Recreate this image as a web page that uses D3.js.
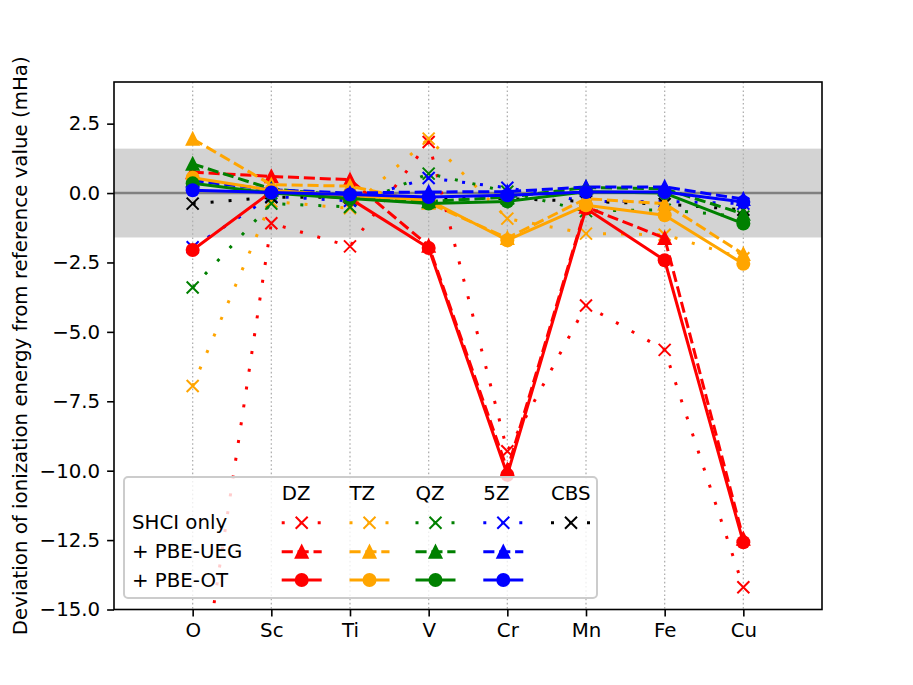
<!DOCTYPE html>
<html>
<head>
<meta charset="utf-8">
<script src="https://cdn.jsdelivr.net/npm/d3@7"></script>
<style>
  html, body { margin: 0; padding: 0; background: #fff; }
  svg { display: block; font-family: "DejaVu Sans", sans-serif; }
</style>
</head>
<body>
<svg id="chart" width="913" height="685"></svg>
<script>
// ---------------- data ----------------
const elements = ["O", "Sc", "Ti", "V", "Cr", "Mn", "Fe", "Cu"];
const yTicks = [2.5, 0.0, -2.5, -5.0, -7.5, -10.0, -12.5, -15.0];
const bases = ["DZ", "TZ", "QZ", "5Z", "CBS"];
const baseColors = ["red", "orange", "green", "blue", "black"];
const rowLabels = ["SHCI only", "+ PBE-UEG", "+ PBE-OT"];
const accuracy = 1.6;

const shciDZ  = [-19.9, -1.09, -1.92, 1.84, -9.3, -4.05, -5.65, -14.2];
const shciTZ  = [-6.95, -0.3, -0.55, 1.96, -0.92, -1.46, -1.5, -2.35];
const shciQZ  = [-3.4, -0.38, -0.5, 0.7, 0.05, -0.65, -0.6, -0.85];
const shci5Z  = [-1.95, -0.12, -0.28, 0.54, 0.19, -0.3, -0.3, -0.38];
const shciCBS = [-0.38, -0.15, -0.15, -0.18, -0.2, -0.3, -0.4, -0.6];

const uegDZ = [0.75, 0.6, 0.48, -1.9, -9.96, -0.5, -1.62, -12.45];
const uegTZ = [1.95, 0.3, 0.25, -0.35, -1.62, -0.2, -0.38, -2.2];
const uegQZ = [1.05, 0.15, -0.1, -0.3, -0.15, 0.2, 0.15, -0.75];
const ueg5Z = [0.45, 0.12, 0.0, 0.04, 0.05, 0.22, 0.22, -0.22];

const otDZ = [-2.05, 0.05, -0.2, -1.98, -10.15, -0.56, -2.42, -12.58];
const otTZ = [0.55, 0.1, -0.1, -0.25, -1.7, -0.44, -0.8, -2.55];
const otQZ = [0.35, 0.0, -0.2, -0.38, -0.3, 0.05, 0.0, -1.1];
const ot5Z = [0.1, 0.02, -0.05, -0.14, -0.08, 0.04, 0.04, -0.32];

const shciSeries = [shciDZ, shciTZ, shciQZ, shci5Z, shciCBS];
const uegSeries = [uegDZ, uegTZ, uegQZ, ueg5Z];
const otSeries = [otDZ, otTZ, otQZ, ot5Z];

// ---------------- layout ----------------
const W = 913, H = 685;
const m = { left: 114, right: 822, top: 82, bottom: 609.5 };
const fs = 19.8;       // 10pt
const lw = 3;          // 1.5pt
const svg = d3.select("#chart");

const x = d3.scaleLinear().domain([-1, 8]).range([m.left, m.right]);
const y = d3.scaleLinear().domain([-15, 4]).range([m.bottom, m.top]);

svg.append("defs").append("clipPath").attr("id", "clip")
  .append("rect").attr("x", m.left).attr("y", m.top)
  .attr("width", m.right - m.left).attr("height", m.bottom - m.top);

const plot = svg.append("g").attr("clip-path", "url(#clip)");

// chemical-accuracy band
plot.append("rect")
  .attr("x", m.left).attr("width", m.right - m.left)
  .attr("y", y(accuracy)).attr("height", y(-accuracy) - y(accuracy))
  .attr("fill", "#d3d3d3");

// vertical dotted grid
plot.selectAll("line.grid").data(elements).enter().append("line")
  .attr("class", "grid")
  .attr("x1", (d, i) => x(i)).attr("x2", (d, i) => x(i))
  .attr("y1", m.top).attr("y2", m.bottom)
  .attr("stroke", "#b0b0b0").attr("stroke-width", 1.3)
  .attr("stroke-dasharray", "1.6,2.6");

// zero line
plot.append("line")
  .attr("x1", m.left).attr("x2", m.right)
  .attr("y1", y(0)).attr("y2", y(0))
  .attr("stroke", "#808080").attr("stroke-width", 2.5);

const line = d3.line().x((d, i) => x(i)).y(d => y(d));

const styles = {
  dotted: { dash: `${lw},${lw * 5}` },
  dashed: { dash: `${lw * 3.7},${lw * 1.6}` },
  solid: { dash: null }
};

function marker(g, type, cx, cy, color) {
  if (type === "x") {
    const h = 6;
    g.append("path")
      .attr("d", `M${cx - h},${cy - h}L${cx + h},${cy + h}M${cx - h},${cy + h}L${cx + h},${cy - h}`)
      .attr("stroke", color).attr("stroke-width", 2).attr("fill", "none");
  } else if (type === "tri") {
    const h = 5.94;
    g.append("path")
      .attr("d", `M${cx},${cy - h}L${cx - h},${cy + h}L${cx + h},${cy + h}Z`)
      .attr("fill", color).attr("stroke", color).attr("stroke-width", 2)
      .attr("stroke-linejoin", "miter");
  } else {
    g.append("circle").attr("cx", cx).attr("cy", cy).attr("r", 7).attr("fill", color);
  }
}

function drawSeries(values, color, style, mk) {
  const g = plot.append("g");
  g.append("path").datum(values)
    .attr("d", line)
    .attr("fill", "none").attr("stroke", color).attr("stroke-width", lw)
    .attr("stroke-linejoin", "round")
    .attr("stroke-dasharray", styles[style].dash);
  values.forEach((v, i) => marker(g, mk, x(i), y(v), color));
}

shciSeries.forEach((s, k) => drawSeries(s, baseColors[k], "dotted", "x"));
uegSeries.forEach((s, k) => drawSeries(s, baseColors[k], "dashed", "tri"));
otSeries.forEach((s, k) => drawSeries(s, baseColors[k], "solid", "o"));

// ---------------- axes ----------------
const xAxis = d3.axisBottom(x).tickValues(d3.range(elements.length))
  .tickFormat(i => elements[i]).tickSize(6.9).tickPadding(6.9);
const yAxis = d3.axisLeft(y).tickValues(yTicks)
  .tickFormat(d => d3.format(".1f")(d).replace("-", "\u2212")).tickSize(6.9).tickPadding(6.9);

const gx = svg.append("g").attr("transform", `translate(0,${m.bottom})`).call(xAxis);
const gy = svg.append("g").attr("transform", `translate(${m.left},0)`).call(yAxis);
[gx, gy].forEach(g => {
  g.select(".domain").remove();
  g.selectAll(".tick line").attr("stroke", "#000").attr("stroke-width", 1.6);
  g.selectAll(".tick text").attr("font-size", fs).attr("fill", "#000")
    .attr("font-family", "DejaVu Sans");
});

// frame
svg.append("rect")
  .attr("x", m.left).attr("y", m.top)
  .attr("width", m.right - m.left).attr("height", m.bottom - m.top)
  .attr("fill", "none").attr("stroke", "#000").attr("stroke-width", 1.6);

// y label
svg.append("text")
  .attr("transform", `translate(27,${(m.top + m.bottom) / 2}) rotate(-90)`)
  .attr("text-anchor", "middle")
  .attr("font-size", fs)
  .text("Deviation of ionization energy from reference value (mHa)");

// ---------------- legend ----------------
const lg = svg.append("g");
lg.append("rect")
  .attr("x", 124).attr("y", 477).attr("width", 473).attr("height", 121)
  .attr("rx", 4).attr("ry", 4)
  .attr("fill", "#fff").attr("fill-opacity", 0.8)
  .attr("stroke", "#cccccc").attr("stroke-width", 2);

const colX = [281.7, 349.5, 415.5, 483.3, 551];
const headerY = 493;
const rowY = [522.7, 551.7, 580];
const hl = 40;

bases.forEach((b, k) => {
  lg.append("text").attr("x", colX[k]).attr("y", headerY)
    .attr("dominant-baseline", "central").attr("font-size", fs).text(b);
});
rowLabels.forEach((r, j) => {
  lg.append("text").attr("x", 132).attr("y", rowY[j])
    .attr("dominant-baseline", "central").attr("font-size", fs).text(r);
});

const rowDefs = [
  { style: "dotted", mk: "x", n: 5 },
  { style: "dashed", mk: "tri", n: 4 },
  { style: "solid", mk: "o", n: 4 }
];
rowDefs.forEach((rd, j) => {
  for (let k = 0; k < rd.n; k++) {
    const x0 = colX[k], yy = rowY[j], c = baseColors[k];
    lg.append("line").attr("x1", x0).attr("x2", x0 + hl).attr("y1", yy).attr("y2", yy)
      .attr("stroke", c).attr("stroke-width", lw)
      .attr("stroke-dasharray", styles[rd.style].dash);
    marker(lg, rd.mk, x0 + hl / 2, yy, c);
  }
});
</script>
</body>
</html>
